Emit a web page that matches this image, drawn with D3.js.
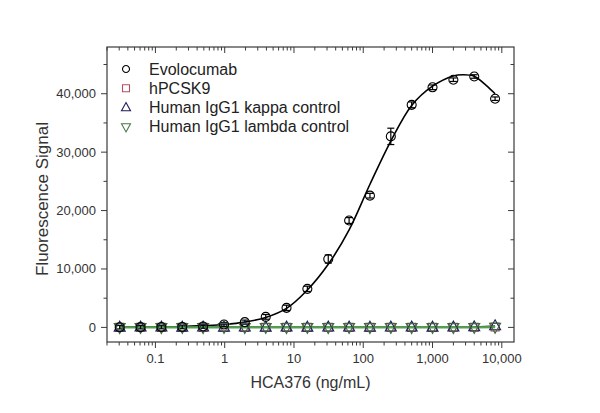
<!DOCTYPE html>
<html><head><meta charset="utf-8">
<script src="https://cdn.jsdelivr.net/npm/d3@7"></script>
<style>
html,body{margin:0;padding:0;background:#fff;}
svg{display:block;font-family:Arial,"Liberation Sans",sans-serif;}
</style></head>
<body>
<svg id="chart" width="600" height="413"></svg>
<script>
// ---- data ----
const conc = [0.0305,0.061,0.122,0.244,0.488,0.977,1.95,3.91,7.81,15.6,31.25,62.5,125,250,500,1000,2000,4000,8000];
const evolocumab = [30,40,60,80,150,500,900,1800,3350,6600,11700,18300,22550,32700,38100,41100,42400,42950,39150];
const evolocumabErr = [300,300,300,300,300,350,350,400,450,450,700,500,400,1400,500,400,300,300,300];
const hpcsk9 = [20,20,10,20,10,20,10,20,10,20,20,10,20,20,10,20,20,30,60];
const kappaCtrl = [10,20,20,10,20,10,20,10,20,10,20,20,10,20,20,10,20,60,250];
const lambdaCtrl = [0,10,0,10,0,10,0,10,0,10,0,10,0,10,0,10,0,10,40];
const fitConc = [0.0305,0.061,0.122,0.244,0.488,0.977,1.95,3.91,7.81,15.6,31.25,62.5,125,250,500,1000,2000,2770,4000,6000,8000];
const fitSignal = [30,50,80,150,300,500,900,1700,3250,6400,10800,16700,24500,31900,38000,41300,43050,43250,43000,41400,40000];
const xTickValues = [0.1,1,10,100,1000,10000];
const xTickLabels = ["0.1","1","10","100","1,000","10,000"];
const yTickValues = [0,10000,20000,30000,40000];
const yTickLabels = ["0","10,000","20,000","30,000","40,000"];
const seriesNames = ["Evolocumab","hPCSK9","Human IgG1 kappa control","Human IgG1 lambda control"];
const xTitle = "HCA376 (ng/mL)";
const yTitle = "Fluorescence Signal";

// ---- layout ----
const L=107,R=514,T=47,B=342;
const svg=d3.select("#chart");
const x=d3.scaleLog().domain([0.02,15000]).range([L,R]);
const y=d3.scaleLinear().domain([-2500,48000]).range([B,T]);
const axisColor="#3a3a3a", textColor="#333";

// minor ticks
const xMinor=[];
for(let e=-2;e<=4;e++){for(let m=2;m<=9;m++){const v=m*Math.pow(10,e);if(v>=0.02&&v<=15000)xMinor.push(v);}}
const yMinor=[5000,15000,25000,35000,45000];

const g=svg.append("g");
// frame
g.append("rect").attr("x",L).attr("y",T).attr("width",R-L).attr("height",B-T)
 .attr("fill","none").attr("stroke",axisColor).attr("stroke-width",1.2);

function ticks(sel,vals,len,side){
  sel.selectAll(null).data(vals).enter().append("line")
   .attr("stroke",axisColor).attr("stroke-width",1)
   .each(function(v){
     const s=d3.select(this);
     if(side==="bottom"){s.attr("x1",x(v)).attr("x2",x(v)).attr("y1",B).attr("y2",B+len);}
     if(side==="top"){s.attr("x1",x(v)).attr("x2",x(v)).attr("y1",T).attr("y2",T+len);}
     if(side==="left"){s.attr("y1",y(v)).attr("y2",y(v)).attr("x1",L).attr("x2",L-len);}
     if(side==="right"){s.attr("y1",y(v)).attr("y2",y(v)).attr("x1",R).attr("x2",R-len);}
   });
}
ticks(g,xTickValues,6,"bottom");ticks(g,xMinor,3.5,"bottom");
ticks(g,xTickValues,6,"top");ticks(g,xMinor,3.5,"top");
ticks(g,yTickValues,6,"left");ticks(g,yMinor,3.5,"left");
ticks(g,yTickValues,6,"right");ticks(g,yMinor,3.5,"right");

// tick labels
g.selectAll(null).data(xTickValues).enter().append("text")
 .attr("x",d=>x(d)).attr("y",363).attr("text-anchor","middle")
 .attr("font-size",13).attr("fill",textColor).text((d,i)=>xTickLabels[i]);
g.selectAll(null).data(yTickValues).enter().append("text")
 .attr("x",96).attr("y",d=>y(d)+4.5).attr("text-anchor","end")
 .attr("font-size",13).attr("fill",textColor).text((d,i)=>yTickLabels[i]);

// titles
svg.append("text").attr("x",(L+R)/2).attr("y",388).attr("text-anchor","middle")
 .attr("font-size",16).attr("fill",textColor).text(xTitle);
svg.append("text").attr("transform",`translate(48,199) rotate(-90)`)
 .attr("text-anchor","middle").attr("font-size",17).attr("fill",textColor).text(yTitle);

// plot area
const p=svg.append("g");
const line=d3.line().x(d=>x(d[0])).y(d=>y(d[1]));
// fit curve
p.append("path").datum(fitConc.map((c,i)=>[c,fitSignal[i]]))
 .attr("d",line.curve(d3.curveCatmullRom)).attr("fill","none").attr("stroke","#000").attr("stroke-width",1.6);

const lineStraight=d3.line().x(d=>x(d[0])).y(d=>y(d[1]));
p.append("path").datum(conc.map((c,i)=>[c,hpcsk9[i]])).attr("d",lineStraight)
 .attr("fill","none").attr("stroke","#8a3a3a").attr("stroke-width",1.5);
p.append("path").datum(conc.map((c,i)=>[c,kappaCtrl[i]])).attr("d",lineStraight)
 .attr("fill","none").attr("stroke","#3a3a2a").attr("stroke-width",1.5);
p.append("path").datum(conc.map((c,i)=>[c,lambdaCtrl[i]])).attr("d",lineStraight)
 .attr("fill","none").attr("stroke","#4fa24f").attr("stroke-width",2.2);

// error bars for evolocumab
const eb=p.append("g").attr("stroke","#000").attr("stroke-width",1.2);
conc.forEach((c,i)=>{
  const cx=x(c),y1=y(evolocumab[i]-evolocumabErr[i]),y2=y(evolocumab[i]+evolocumabErr[i]);
  eb.append("line").attr("x1",cx).attr("x2",cx).attr("y1",y1).attr("y2",y2);
  eb.append("line").attr("x1",cx-3.5).attr("x2",cx+3.5).attr("y1",y1).attr("y2",y1);
  eb.append("line").attr("x1",cx-3.5).attr("x2",cx+3.5).attr("y1",y2).attr("y2",y2);
});

// markers
function tri(s,up){const h=s*0.9;return up?`M0,${-h*0.62}L${s/2},${h*0.38}L${-s/2},${h*0.38}Z`:`M0,${h*0.62}L${s/2},${-h*0.38}L${-s/2},${-h*0.38}Z`;}
function drawMarkers(vals,shape,color,size){
  p.selectAll(null).data(conc.map((c,i)=>[c,vals[i]])).enter().append("path")
   .attr("transform",d=>`translate(${x(d[0])},${y(d[1])})`)
   .attr("d",()=>{
     if(shape==="circle") return d3.symbol(d3.symbolCircle,size*size*0.785)();
     if(shape==="square") return `M${-size/2},${-size/2}h${size}v${size}h${-size}Z`;
     return tri(size,shape==="up");
   })
   .attr("fill","none").attr("stroke",color).attr("stroke-width",1.1);
}
drawMarkers(hpcsk9,"square","#a04858",8);
drawMarkers(kappaCtrl,"up","#1c1c5a",11);
drawMarkers(lambdaCtrl,"down","#3c6a3c",11);
drawMarkers(evolocumab,"circle","#000",9);

// legend
const leg=svg.append("g");
const legY=[69,88.3,107.6,126.9];
const legShapes=["circle","square","up","down"];
const legColors=["#000","#b05060","#1c1c5a","#4a7a4a"];
seriesNames.forEach((n,i)=>{
  const gy=legY[i];
  let d;
  if(legShapes[i]==="circle") d=d3.symbol(d3.symbolCircle,7*7*0.785)();
  else if(legShapes[i]==="square") d="M-3.5,-3.5h7v7h-7Z";
  else d=tri(9,legShapes[i]==="up");
  leg.append("path").attr("transform",`translate(126,${gy})`).attr("d",d)
   .attr("fill","none").attr("stroke",legColors[i]).attr("stroke-width",1.1);
  leg.append("text").attr("x",149).attr("y",gy+5.5).attr("font-size",16).attr("fill","#222").text(n);
});
</script>
</body></html>
